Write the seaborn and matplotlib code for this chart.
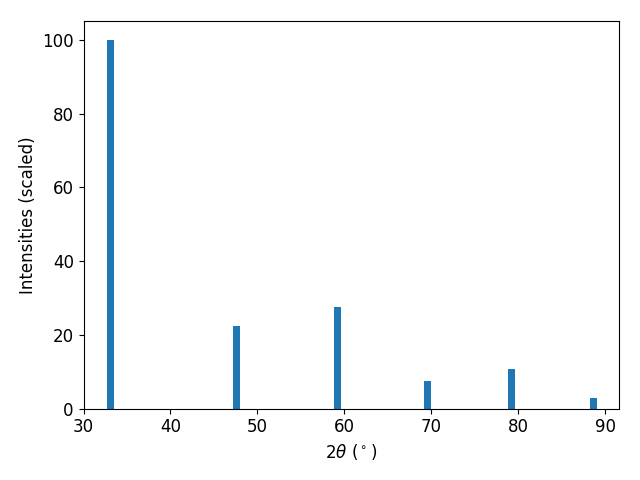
import matplotlib
matplotlib.use("Agg")
import matplotlib.pyplot as plt
import seaborn as sns
import numpy as np
import pandas as pd

two_theta = [33.10, 47.55, 59.27, 69.62, 79.25, 88.62]
intensity = [100.0, 22.4, 27.5, 7.45, 10.7, 2.85]

plt.rcParams['font.size'] = 12

df = pd.DataFrame({"two_theta": two_theta, "intensity": intensity})

fig, ax = plt.subplots(figsize=(6.4, 4.8), dpi=100)
fig.subplots_adjust(left=83.5 / 640, right=619 / 640,
                    top=1 - 21 / 480, bottom=1 - 408.5 / 480)
min_gap = np.min(np.diff(sorted(two_theta)))
sns.barplot(data=df, x="two_theta", y="intensity", native_scale=True,
            width=0.8 / min_gap, color="#1f77b4", saturation=1, ax=ax,
            errorbar=None)
ax.set_xlim(30, 91.6)
ax.set_ylim(0, 105.2)
ax.set_xlabel(r"$2\theta$ ($^\circ$)")
ax.set_ylabel("Intensities (scaled)")
ax.tick_params(labelsize=12)
fig.savefig("out.png", dpi=100)
